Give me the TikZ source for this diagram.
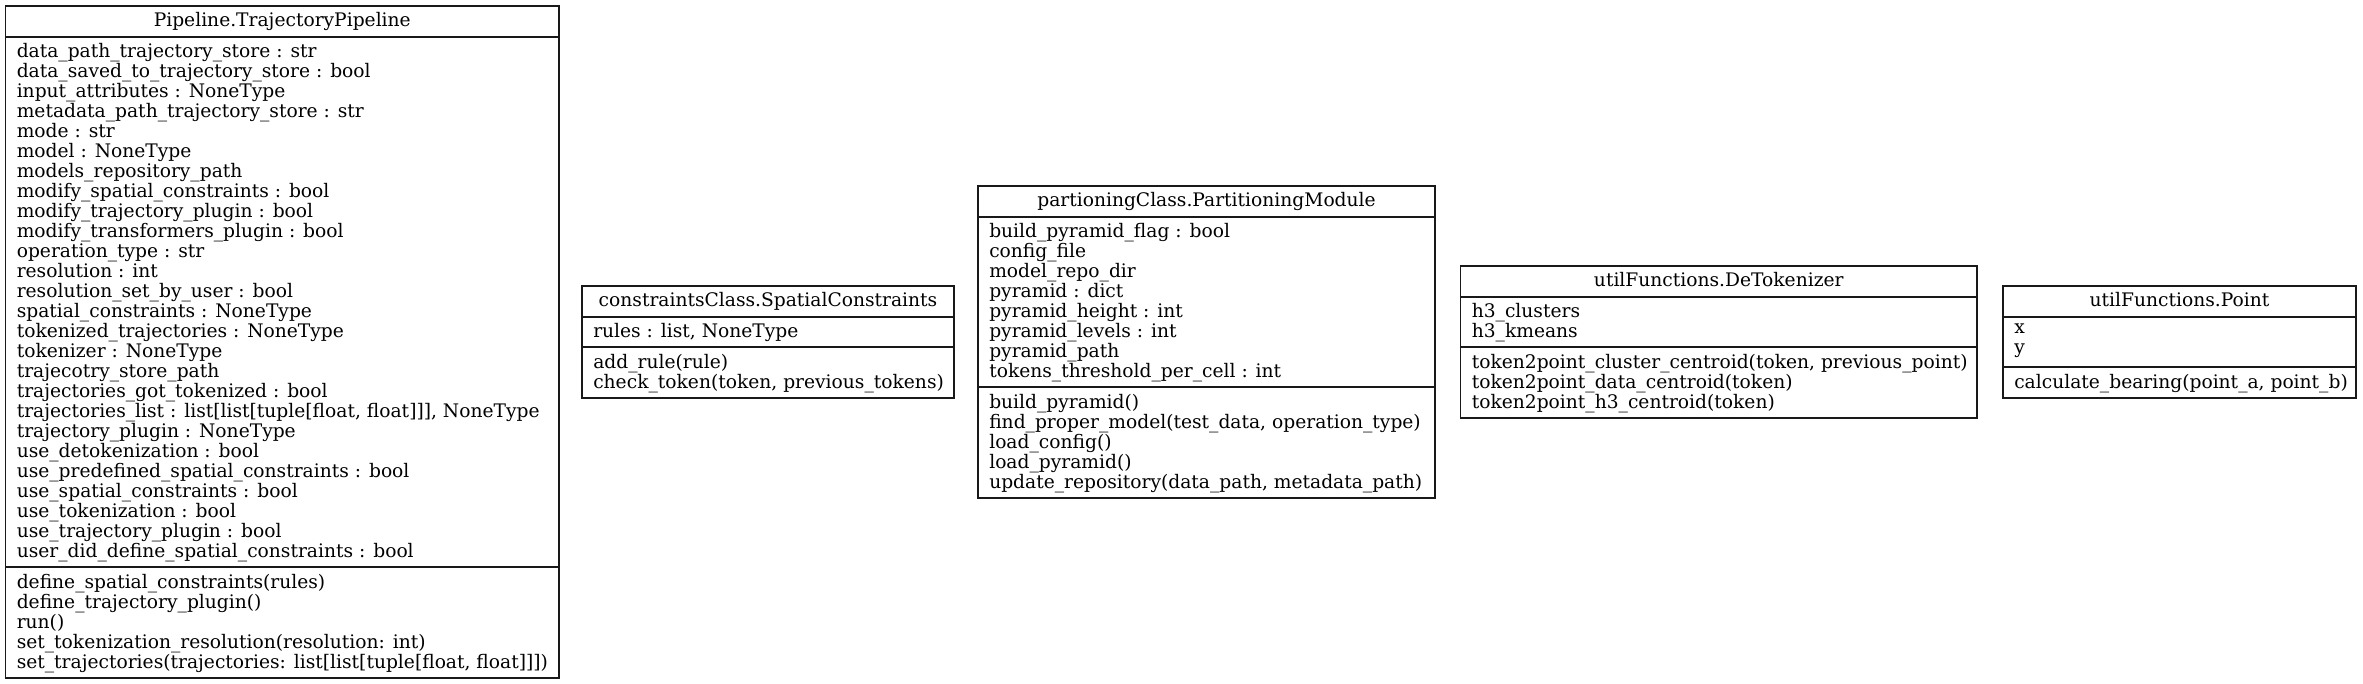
\documentclass[tikz,border=0pt]{standalone}
\usepackage{fontspec}
\setmainfont{DejaVu Serif}
\usetikzlibrary{fit}
\tikzset{
  classbox/.style={draw=black!90, line width=1.1pt, inner sep=0pt, outer sep=0pt},
  sepline/.style={draw=black!90, line width=1.3pt},
  titletxt/.style={anchor=base, inner sep=0pt, font=\fontsize{14pt}{15pt}\selectfont},
  txt/.style={anchor=north west, align=left, inner sep=0pt, font=\fontsize{14pt}{15pt}\selectfont, execute at begin node=\strut},
}
\newcommand\umlclass[9]{%
  \pgfmathsetmacro\ucA{#4+30.7}%
  \pgfmathsetmacro\ucB{\ucA+20*#5+10.6}%
  \pgfmathsetmacro\ucC{\ucB+20*#6+10.6}%
  \pgfmathsetmacro\ucM{(#2+#3)/2}%
  \coordinate (#1-nw) at (#2,#4);
  \coordinate (#1-se) at (#3,\ucC);
  \node[classbox, fit=(#1-nw)(#1-se)] (#1) {};
  \draw[sepline] (#2,\ucA) -- (#3,\ucA);
  \draw[sepline] (#2,\ucB) -- (#3,\ucB);
  \node[titletxt] (#1-title) at (\ucM,#4+20) {#7};
  \node[txt] (#1-attrs) at (#2+11,\ucA+6.6) {#8};
  \node[txt] (#1-ops) at (#2+11,\ucB+6.6) {#9};
}
\begin{document}
\begin{tikzpicture}[x=0.75pt,y=-0.75pt]
\useasboundingbox[fill=white] (0,0) rectangle (2363,684);
\umlclass{pipe}{5.5}{559}{6.05}{26}{5}{Pipeline.TrajectoryPipeline}{%
data\_path\_trajectory\_store : str\\
data\_saved\_to\_trajectory\_store : bool\\
input\_attributes : NoneType\\
metadata\_path\_trajectory\_store : str\\
mode : str\\
model : NoneType\\
models\_repository\_path\\
modify\_spatial\_constraints : bool\\
modify\_trajectory\_plugin : bool\\
modify\_transformers\_plugin : bool\\
operation\_type : str\\
resolution : int\\
resolution\_set\_by\_user : bool\\
spatial\_constraints : NoneType\\
tokenized\_trajectories : NoneType\\
tokenizer : NoneType\\
trajecotry\_store\_path\\
trajectories\_got\_tokenized : bool\\
trajectories\_list : list[list[tuple[float, float]]], NoneType\\
trajectory\_plugin : NoneType\\
use\_detokenization : bool\\
use\_predefined\_spatial\_constraints : bool\\
use\_spatial\_constraints : bool\\
use\_tokenization : bool\\
use\_trajectory\_plugin : bool\\
user\_did\_define\_spatial\_constraints : bool}{%
define\_spatial\_constraints(rules)\\
define\_trajectory\_plugin()\\
run()\\
set\_tokenization\_resolution(resolution: int)\\
set\_trajectories(trajectories: list[list[tuple[float, float]]])}
\umlclass{cons}{582}{954}{286.05}{1}{2}{constraintsClass.SpatialConstraints}{%
rules : list, NoneType}{%
add\_rule(rule)\\
check\_token(token, previous\_tokens)}
\umlclass{part}{978}{1435}{186.05}{8}{5}{partioningClass.PartitioningModule}{%
build\_pyramid\_flag : bool\\
config\_file\\
model\_repo\_dir\\
pyramid : dict\\
pyramid\_height : int\\
pyramid\_levels : int\\
pyramid\_path\\
tokens\_threshold\_per\_cell : int}{%
build\_pyramid()\\
find\_proper\_model(test\_data, operation\_type)\\
load\_config()\\
load\_pyramid()\\
update\_repository(data\_path, metadata\_path)}
\umlclass{detok}{1460.5}{1977}{266.05}{2}{3}{utilFunctions.DeTokenizer}{%
h3\_clusters\\
h3\_kmeans}{%
token2point\_cluster\_centroid(token, previous\_point)\\
token2point\_data\_centroid(token)\\
token2point\_h3\_centroid(token)}
\umlclass{point}{2003}{2356}{286.05}{2}{1}{utilFunctions.Point}{%
x\\
y}{%
calculate\_bearing(point\_a, point\_b)}
\end{tikzpicture}
\end{document}
